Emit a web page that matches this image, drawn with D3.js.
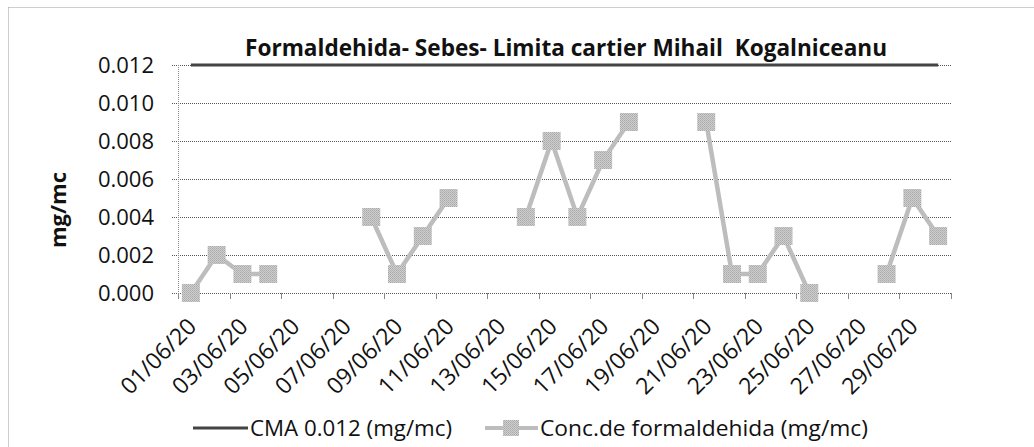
<!DOCTYPE html>
<html>
<head>
<meta charset="utf-8">
<script src="https://cdn.jsdelivr.net/npm/d3@7"></script>
<style>
  body { margin: 0; background: #fff; }
  text { font-family: "Open Sans", sans-serif; fill: #111; }
</style>
</head>
<body>
<script>
// zilele lunii iunie 2020
var days = ["01/06/20","02/06/20","03/06/20","04/06/20","05/06/20","06/06/20","07/06/20","08/06/20","09/06/20","10/06/20",
            "11/06/20","12/06/20","13/06/20","14/06/20","15/06/20","16/06/20","17/06/20","18/06/20","19/06/20","20/06/20",
            "21/06/20","22/06/20","23/06/20","24/06/20","25/06/20","26/06/20","27/06/20","28/06/20","29/06/20","30/06/20"];
var cma = [0.012,0.012,0.012,0.012,0.012,0.012,0.012,0.012,0.012,0.012,
           0.012,0.012,0.012,0.012,0.012,0.012,0.012,0.012,0.012,0.012,
           0.012,0.012,0.012,0.012,0.012,0.012,0.012,0.012,0.012,0.012];
var conc = [0.000,0.002,0.001,0.001,null,null,null,0.004,0.001,0.003,
            0.005,null,null,0.004,0.008,0.004,0.007,0.009,null,null,
            0.009,0.001,0.001,0.003,0.000,null,null,0.001,0.005,0.003];
var yTicks = [0,0.002,0.004,0.006,0.008,0.010,0.012];

var W = 1034, H = 447
var plotL = 178, plotR = 951, plotT = 65, plotB = 293

var svg = d3.select("body").append("svg").attr("width", W).attr("height", H)

// textura gri pentru markere (ca la scanare)
var pat = svg.append("defs").append("pattern").attr("id", "dots")
   .attr("width", 2).attr("height", 2).attr("patternUnits", "userSpaceOnUse")
pat.append("rect").attr("width", 2).attr("height", 2).attr("fill", "#cfcfcf")
pat.append("rect").attr("width", 1).attr("height", 1).attr("fill", "#a9a9a9")
pat.append("rect").attr("x", 1).attr("y", 1).attr("width", 1).attr("height", 1).attr("fill", "#b4b4b4")

// chenar punctat (sus si stanga)
svg.append("line").attr("x1", 8.5).attr("y1", 7.5).attr("x2", W).attr("y2", 7.5)
   .attr("stroke", "#9a9aa8").attr("stroke-dasharray", "1,1")
svg.append("line").attr("x1", 8.5).attr("y1", 7.5).attr("x2", 8.5).attr("y2", H)
   .attr("stroke", "#9a9aa8").attr("stroke-dasharray", "1,1")

var x = d3.scaleBand().domain(days).range([plotL, plotR]).padding(0)
var y = d3.scaleLinear().domain([0, 0.012]).range([plotB, plotT])
var cx = function(d) { return x(d) + x.bandwidth() / 2 }

// grid
svg.append("g").selectAll("line").data(yTicks).enter().append("line")
   .attr("x1", plotL - 6).attr("x2", plotR)
   .attr("y1", function(d) { return Math.round(y(d)) + 0.5 }).attr("y2", function(d) { return Math.round(y(d)) + 0.5 })
   .attr("stroke", "#555").attr("stroke-dasharray", "1,1")

// axa y
svg.append("line").attr("x1", plotL + 0.5).attr("x2", plotL + 0.5).attr("y1", plotT).attr("y2", plotB)
   .attr("stroke", "#888").attr("stroke-dasharray", "1,1")
var yAxis = svg.append("g").attr("transform", "translate(" + plotL + ",0)")
   .call(d3.axisLeft(y).tickValues(yTicks).tickFormat(d3.format(".3f")).tickSize(0).tickPadding(24))
yAxis.select(".domain").remove()
yAxis.selectAll("text").attr("font-size", "22px").attr("font-family", "Open Sans").attr("dy", "0.35em").attr("fill", "#111")

// axa x - diviziuni la fiecare 2 zile
var tickPos = []
for (var i = 0; i < days.length; i += 2) tickPos.push(x(days[i]))
tickPos.push(x.range()[1])
svg.append("g").selectAll("line").data(tickPos).enter().append("line")
   .attr("x1", function(d) { return Math.round(d) + 0.5 }).attr("x2", function(d) { return Math.round(d) + 0.5 })
   .attr("y1", plotB).attr("y2", plotB + 6)
   .attr("stroke", "#888")

var labelDays = days.filter(function(d, i) { return i % 2 == 0 })
svg.append("g").selectAll("text").data(labelDays).enter().append("text")
   .attr("transform", function(d) { return "translate(" + (cx(d) + 7) + "," + 328 + ") rotate(-45)" })
   .attr("text-anchor", "end")
   .attr("font-size", "23px")
   .text(function(d) { return d })

// titlu axa y
svg.append("text").attr("transform", "translate(66,210) rotate(-90)")
   .attr("text-anchor", "middle").attr("font-size", "22px").attr("font-weight", "bold")
   .text("mg/mc")

// titlu
svg.append("text").attr("x", 566).attr("y", 56).attr("text-anchor", "middle")
   .attr("font-size", "23px").attr("font-weight", "bold")
   .style("white-space", "pre")
   .attr("textLength", 642).attr("lengthAdjust", "spacingAndGlyphs")
   .text("Formaldehida- Sebes- Limita cartier Mihail  Kogalniceanu")

// CMA
var lineCma = d3.line().x(function(d, i) { return cx(days[i]) }).y(function(d) { return y(d) })
svg.append("path").datum(cma).attr("d", lineCma)
   .attr("fill", "none").attr("stroke", "#444").attr("stroke-width", 3)

// concentratie
var lineConc = d3.line()
   .defined(function(d) { return d != null })
   .x(function(d, i) { return cx(days[i]) }).y(function(d) { return y(d) })
svg.append("path").datum(conc).attr("d", lineConc)
   .attr("fill", "none").attr("stroke", "#bdbdbd").attr("stroke-width", 4.5)

var pts = conc.map(function(v, i) { return {d: days[i], v: v} }).filter(function(p) { return p.v != null })
var ms = 18
svg.append("g").selectAll("rect").data(pts).enter().append("rect")
   .attr("x", function(p) { return cx(p.d) - ms / 2 }).attr("y", function(p) { return y(p.v) - ms / 2 })
   .attr("width", ms).attr("height", ms)
   .attr("fill", "url(#dots)")

// legenda
var ly = 428
svg.append("line").attr("x1", 193).attr("x2", 248).attr("y1", ly).attr("y2", ly)
   .attr("stroke", "#444").attr("stroke-width", 3)
svg.append("text").attr("x", 250).attr("y", ly + 8).attr("font-size", "22px")
   .attr("textLength", 202).attr("lengthAdjust", "spacingAndGlyphs")
   .text("CMA 0.012 (mg/mc)")
svg.append("line").attr("x1", 485).attr("x2", 538).attr("y1", ly).attr("y2", ly)
   .attr("stroke", "#bdbdbd").attr("stroke-width", 4)
svg.append("rect").attr("x", 503).attr("y", ly - 8).attr("width", 16).attr("height", 16).attr("fill", "url(#dots)")
svg.append("text").attr("x", 540).attr("y", ly + 8).attr("font-size", "22px")
   .attr("textLength", 328).attr("lengthAdjust", "spacingAndGlyphs")
   .text("Conc.de formaldehida (mg/mc)")
</script>
</body>
</html>
